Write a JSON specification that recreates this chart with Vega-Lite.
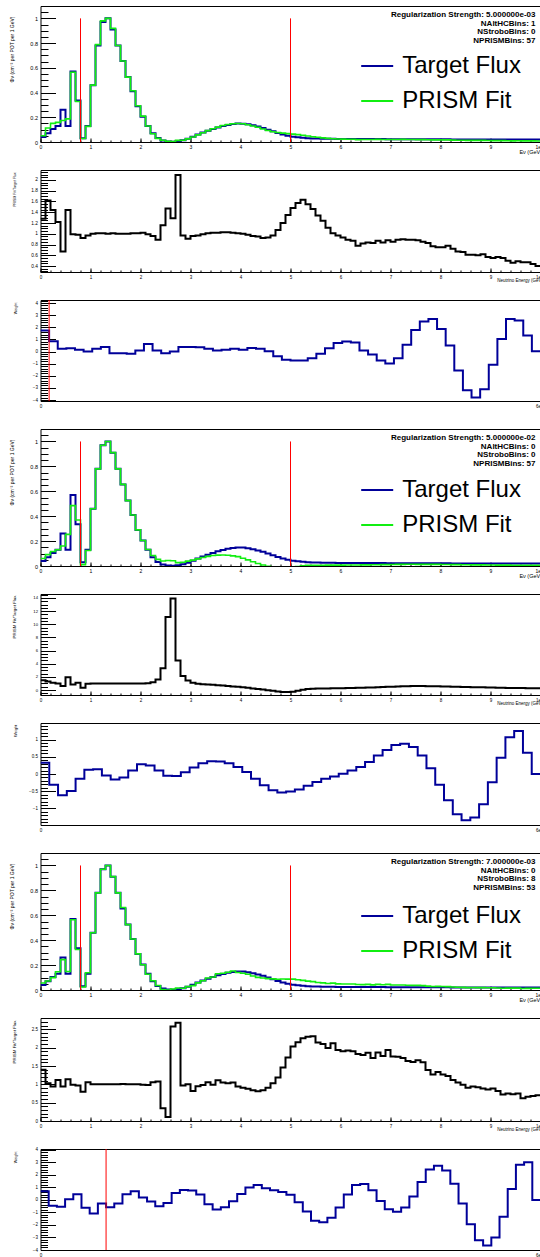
{
"$schema": "https://vega.github.io/schema/vega-lite/v6.json",
"padding": {"left": 8.5, "top": 5, "right": 0, "bottom": 0},
"background": "white",
"spacing": 28,
"bounds": "flush",
"resolve": {"scale": {"x": "independent", "y": "independent", "color": "independent"}, "axis": {"x": "independent", "y": "independent"}, "legend": {"color": "independent"}},
"datasets": {
"flux": [
{"E":0,"t":0.04,"f1":0.051,"f2":0.06,"f3":0.056,"r1":1.28,"r2":1.5,"r3":1.4},
{"E":0.1,"t":0.07,"f1":0.113,"f2":0.091,"f3":0.072,"r1":1.62,"r2":1.3,"r3":1.03},
{"E":0.2,"t":0.105,"f1":0.151,"f2":0.116,"f3":0.099,"r1":1.44,"r2":1.1,"r3":0.94},
{"E":0.3,"t":0.13,"f1":0.159,"f2":0.13,"f3":0.146,"r1":1.22,"r2":1.0,"r3":1.12},
{"E":0.4,"t":0.26,"f1":0.174,"f2":0.161,"f3":0.244,"r1":0.67,"r2":0.62,"r3":0.94},
{"E":0.5,"t":0.13,"f1":0.187,"f2":0.254,"f3":0.148,"r1":1.44,"r2":1.95,"r3":1.14},
{"E":0.6,"t":0.57,"f1":0.564,"f2":0.485,"f3":0.564,"r1":0.99,"r2":0.85,"r3":0.99},
{"E":0.7,"t":0.335,"f1":0.328,"f2":0.369,"f3":0.325,"r1":0.98,"r2":1.1,"r3":0.97},
{"E":0.8,"t":0.03,"f1":0.028,"f2":0.011,"f3":0.024,"r1":0.92,"r2":0.36,"r3":0.8},
{"E":0.9,"t":0.13,"f1":0.126,"f2":0.124,"f3":0.138,"r1":0.97,"r2":0.95,"r3":1.06},
{"E":1.0,"t":0.46,"f1":0.46,"f2":0.46,"f3":0.46,"r1":1.0,"r2":1.0,"r3":1.0},
{"E":1.1,"t":0.78,"f1":0.788,"f2":0.78,"f3":0.78,"r1":1.01,"r2":1.0,"r3":1.0},
{"E":1.2,"t":0.97,"f1":0.98,"f2":0.97,"f3":0.97,"r1":1.01,"r2":1.0,"r3":1.0},
{"E":1.3,"t":1.0,"f1":1.0,"f2":1.0,"f3":1.0,"r1":1.0,"r2":1.0,"r3":1.0},
{"E":1.4,"t":0.91,"f1":0.919,"f2":0.91,"f3":0.91,"r1":1.01,"r2":1.0,"r3":1.0},
{"E":1.5,"t":0.78,"f1":0.78,"f2":0.78,"f3":0.78,"r1":1.0,"r2":1.0,"r3":1.0},
{"E":1.6,"t":0.655,"f1":0.655,"f2":0.655,"f3":0.662,"r1":1.0,"r2":1.0,"r3":1.01},
{"E":1.7,"t":0.525,"f1":0.525,"f2":0.525,"f3":0.525,"r1":1.0,"r2":1.0,"r3":1.0},
{"E":1.8,"t":0.41,"f1":0.414,"f2":0.41,"f3":0.41,"r1":1.01,"r2":1.0,"r3":1.0},
{"E":1.9,"t":0.29,"f1":0.293,"f2":0.29,"f3":0.29,"r1":1.01,"r2":1.0,"r3":1.0},
{"E":2.0,"t":0.205,"f1":0.209,"f2":0.205,"f3":0.203,"r1":1.02,"r2":1.0,"r3":0.99},
{"E":2.1,"t":0.13,"f1":0.129,"f2":0.133,"f3":0.127,"r1":0.99,"r2":1.02,"r3":0.98},
{"E":2.2,"t":0.07,"f1":0.067,"f2":0.084,"f3":0.074,"r1":0.96,"r2":1.2,"r3":1.06},
{"E":2.3,"t":0.033,"f1":0.029,"f2":0.053,"f3":0.036,"r1":0.89,"r2":1.6,"r3":1.08},
{"E":2.4,"t":0.012,"f1":0.014,"f2":0.04,"f3":0.004,"r1":1.16,"r2":3.3,"r3":0.35},
{"E":2.5,"t":0.004,"f1":0.006,"f2":0.044,"f3":0.0,"r1":1.47,"r2":11.1,"r3":0.11},
{"E":2.6,"t":0.003,"f1":0.004,"f2":0.042,"f3":0.008,"r1":1.29,"r2":13.9,"r3":2.58},
{"E":2.7,"t":0.006,"f1":0.013,"f2":0.027,"f3":0.016,"r1":2.09,"r2":4.5,"r3":2.68},
{"E":2.8,"t":0.014,"f1":0.014,"f2":0.03,"f3":0.014,"r1":0.97,"r2":2.15,"r3":0.97},
{"E":2.9,"t":0.027,"f1":0.025,"f2":0.039,"f3":0.027,"r1":0.91,"r2":1.45,"r3":1.0},
{"E":3.0,"t":0.043,"f1":0.041,"f2":0.047,"f3":0.035,"r1":0.96,"r2":1.1,"r3":0.82},
{"E":3.1,"t":0.06,"f1":0.058,"f2":0.057,"f3":0.057,"r1":0.97,"r2":0.95,"r3":0.95},
{"E":3.2,"t":0.076,"f1":0.075,"f2":0.068,"f3":0.074,"r1":0.99,"r2":0.9,"r3":0.98},
{"E":3.3,"t":0.091,"f1":0.092,"f2":0.077,"f3":0.096,"r1":1.01,"r2":0.85,"r3":1.06},
{"E":3.4,"t":0.105,"f1":0.107,"f2":0.084,"f3":0.104,"r1":1.02,"r2":0.8,"r3":0.99},
{"E":3.5,"t":0.118,"f1":0.12,"f2":0.087,"f3":0.131,"r1":1.02,"r2":0.74,"r3":1.11},
{"E":3.6,"t":0.129,"f1":0.133,"f2":0.088,"f3":0.135,"r1":1.03,"r2":0.68,"r3":1.05},
{"E":3.7,"t":0.138,"f1":0.142,"f2":0.086,"f3":0.142,"r1":1.03,"r2":0.62,"r3":1.03},
{"E":3.8,"t":0.145,"f1":0.148,"f2":0.081,"f3":0.152,"r1":1.02,"r2":0.56,"r3":1.05},
{"E":3.9,"t":0.149,"f1":0.15,"f2":0.075,"f3":0.14,"r1":1.01,"r2":0.5,"r3":0.94},
{"E":4.0,"t":0.148,"f1":0.148,"f2":0.062,"f3":0.135,"r1":1.0,"r2":0.42,"r3":0.91},
{"E":4.1,"t":0.143,"f1":0.14,"f2":0.049,"f3":0.126,"r1":0.98,"r2":0.34,"r3":0.88},
{"E":4.2,"t":0.135,"f1":0.13,"f2":0.034,"f3":0.113,"r1":0.96,"r2":0.25,"r3":0.84},
{"E":4.3,"t":0.125,"f1":0.119,"f2":0.02,"f3":0.101,"r1":0.95,"r2":0.16,"r3":0.81},
{"E":4.4,"t":0.114,"f1":0.105,"f2":0.008,"f3":0.096,"r1":0.92,"r2":0.07,"r3":0.84},
{"E":4.5,"t":0.1,"f1":0.093,"f2":-0.002,"f3":0.091,"r1":0.93,"r2":-0.02,"r3":0.91},
{"E":4.6,"t":0.086,"f1":0.083,"f2":-0.01,"f3":0.089,"r1":0.97,"r2":-0.12,"r3":1.03},
{"E":4.7,"t":0.072,"f1":0.077,"f2":-0.016,"f3":0.086,"r1":1.07,"r2":-0.22,"r3":1.19},
{"E":4.8,"t":0.06,"f1":0.072,"f2":-0.017,"f3":0.088,"r1":1.2,"r2":-0.28,"r3":1.46},
{"E":4.9,"t":0.05,"f1":0.068,"f2":-0.015,"f3":0.087,"r1":1.35,"r2":-0.3,"r3":1.73},
{"E":5.0,"t":0.043,"f1":0.064,"f2":-0.011,"f3":0.087,"r1":1.48,"r2":-0.25,"r3":2.03},
{"E":5.1,"t":0.038,"f1":0.06,"f2":-0.004,"f3":0.082,"r1":1.57,"r2":-0.1,"r3":2.15},
{"E":5.2,"t":0.034,"f1":0.055,"f2":0.002,"f3":0.077,"r1":1.63,"r2":0.05,"r3":2.26},
{"E":5.3,"t":0.031,"f1":0.048,"f2":0.005,"f3":0.071,"r1":1.55,"r2":0.15,"r3":2.3},
{"E":5.4,"t":0.029,"f1":0.042,"f2":0.006,"f3":0.067,"r1":1.46,"r2":0.2,"r3":2.31},
{"E":5.5,"t":0.028,"f1":0.038,"f2":0.006,"f3":0.06,"r1":1.34,"r2":0.22,"r3":2.14},
{"E":5.6,"t":0.027,"f1":0.033,"f2":0.006,"f3":0.057,"r1":1.24,"r2":0.24,"r3":2.1},
{"E":5.7,"t":0.026,"f1":0.029,"f2":0.007,"f3":0.052,"r1":1.11,"r2":0.25,"r3":1.99},
{"E":5.8,"t":0.026,"f1":0.026,"f2":0.007,"f3":0.055,"r1":1.01,"r2":0.26,"r3":2.12},
{"E":5.9,"t":0.025,"f1":0.024,"f2":0.007,"f3":0.049,"r1":0.97,"r2":0.27,"r3":1.94},
{"E":6.0,"t":0.025,"f1":0.023,"f2":0.007,"f3":0.048,"r1":0.93,"r2":0.28,"r3":1.9},
{"E":6.1,"t":0.025,"f1":0.022,"f2":0.008,"f3":0.048,"r1":0.89,"r2":0.3,"r3":1.92},
{"E":6.2,"t":0.025,"f1":0.022,"f2":0.008,"f3":0.048,"r1":0.87,"r2":0.32,"r3":1.9},
{"E":6.3,"t":0.024,"f1":0.019,"f2":0.008,"f3":0.044,"r1":0.78,"r2":0.34,"r3":1.83},
{"E":6.4,"t":0.024,"f1":0.02,"f2":0.009,"f3":0.043,"r1":0.82,"r2":0.36,"r3":1.8},
{"E":6.5,"t":0.024,"f1":0.02,"f2":0.009,"f3":0.045,"r1":0.84,"r2":0.38,"r3":1.86},
{"E":6.6,"t":0.024,"f1":0.02,"f2":0.01,"f3":0.041,"r1":0.83,"r2":0.4,"r3":1.72},
{"E":6.7,"t":0.024,"f1":0.021,"f2":0.01,"f3":0.045,"r1":0.87,"r2":0.43,"r3":1.87},
{"E":6.8,"t":0.024,"f1":0.02,"f2":0.011,"f3":0.042,"r1":0.84,"r2":0.46,"r3":1.77},
{"E":6.9,"t":0.023,"f1":0.02,"f2":0.011,"f3":0.045,"r1":0.88,"r2":0.49,"r3":1.94},
{"E":7.0,"t":0.023,"f1":0.02,"f2":0.012,"f3":0.04,"r1":0.85,"r2":0.52,"r3":1.76},
{"E":7.1,"t":0.023,"f1":0.02,"f2":0.013,"f3":0.04,"r1":0.89,"r2":0.55,"r3":1.75},
{"E":7.2,"t":0.023,"f1":0.021,"f2":0.013,"f3":0.04,"r1":0.9,"r2":0.57,"r3":1.72},
{"E":7.3,"t":0.023,"f1":0.02,"f2":0.014,"f3":0.038,"r1":0.89,"r2":0.59,"r3":1.64},
{"E":7.4,"t":0.023,"f1":0.02,"f2":0.014,"f3":0.037,"r1":0.89,"r2":0.6,"r3":1.61},
{"E":7.5,"t":0.022,"f1":0.019,"f2":0.013,"f3":0.037,"r1":0.88,"r2":0.6,"r3":1.66},
{"E":7.6,"t":0.022,"f1":0.019,"f2":0.013,"f3":0.035,"r1":0.85,"r2":0.6,"r3":1.6},
{"E":7.7,"t":0.022,"f1":0.018,"f2":0.013,"f3":0.031,"r1":0.83,"r2":0.59,"r3":1.39},
{"E":7.8,"t":0.022,"f1":0.017,"f2":0.013,"f3":0.028,"r1":0.77,"r2":0.58,"r3":1.27},
{"E":7.9,"t":0.022,"f1":0.017,"f2":0.013,"f3":0.029,"r1":0.75,"r2":0.57,"r3":1.34},
{"E":8.0,"t":0.022,"f1":0.017,"f2":0.012,"f3":0.028,"r1":0.75,"r2":0.56,"r3":1.27},
{"E":8.1,"t":0.022,"f1":0.017,"f2":0.012,"f3":0.027,"r1":0.78,"r2":0.54,"r3":1.23},
{"E":8.2,"t":0.021,"f1":0.015,"f2":0.011,"f3":0.024,"r1":0.72,"r2":0.52,"r3":1.12},
{"E":8.3,"t":0.021,"f1":0.014,"f2":0.011,"f3":0.022,"r1":0.67,"r2":0.5,"r3":1.05},
{"E":8.4,"t":0.021,"f1":0.014,"f2":0.01,"f3":0.021,"r1":0.66,"r2":0.48,"r3":0.99},
{"E":8.5,"t":0.021,"f1":0.013,"f2":0.01,"f3":0.019,"r1":0.61,"r2":0.46,"r3":0.91},
{"E":8.6,"t":0.021,"f1":0.013,"f2":0.009,"f3":0.02,"r1":0.61,"r2":0.44,"r3":0.94},
{"E":8.7,"t":0.021,"f1":0.013,"f2":0.009,"f3":0.019,"r1":0.6,"r2":0.42,"r3":0.92},
{"E":8.8,"t":0.021,"f1":0.013,"f2":0.009,"f3":0.019,"r1":0.62,"r2":0.41,"r3":0.89},
{"E":8.9,"t":0.021,"f1":0.012,"f2":0.008,"f3":0.018,"r1":0.57,"r2":0.39,"r3":0.86},
{"E":9.0,"t":0.02,"f1":0.011,"f2":0.008,"f3":0.018,"r1":0.55,"r2":0.38,"r3":0.89},
{"E":9.1,"t":0.02,"f1":0.011,"f2":0.007,"f3":0.016,"r1":0.57,"r2":0.36,"r3":0.82},
{"E":9.2,"t":0.02,"f1":0.011,"f2":0.007,"f3":0.014,"r1":0.55,"r2":0.35,"r3":0.72},
{"E":9.3,"t":0.02,"f1":0.01,"f2":0.007,"f3":0.015,"r1":0.5,"r2":0.33,"r3":0.75},
{"E":9.4,"t":0.02,"f1":0.009,"f2":0.006,"f3":0.015,"r1":0.46,"r2":0.32,"r3":0.73},
{"E":9.5,"t":0.02,"f1":0.01,"f2":0.006,"f3":0.015,"r1":0.49,"r2":0.31,"r3":0.75},
{"E":9.6,"t":0.02,"f1":0.009,"f2":0.006,"f3":0.012,"r1":0.47,"r2":0.3,"r3":0.62},
{"E":9.7,"t":0.02,"f1":0.009,"f2":0.006,"f3":0.013,"r1":0.47,"r2":0.29,"r3":0.66},
{"E":9.8,"t":0.02,"f1":0.009,"f2":0.006,"f3":0.014,"r1":0.44,"r2":0.28,"r3":0.68},
{"E":9.9,"t":0.02,"f1":0.008,"f2":0.005,"f3":0.014,"r1":0.4,"r2":0.27,"r3":0.7},
{"E":10,"t":0.02,"f1":0.008,"f2":0.005,"f3":0.014,"r1":0.4,"r2":0.27,"r3":0.7}
],
"w1": [
{"bin":0,"w":1.73},{"bin":1,"w":0.85},{"bin":2,"w":0.22},{"bin":3,"w":0.27},{"bin":4,"w":0.14},{"bin":5,"w":0.0},{"bin":6,"w":0.22},{"bin":7,"w":0.38},{"bin":8,"w":-0.14},{"bin":9,"w":-0.14},
{"bin":10,"w":-0.19},{"bin":11,"w":0.08},{"bin":12,"w":0.63},{"bin":13,"w":0.08},{"bin":14,"w":-0.14},{"bin":15,"w":0.0},{"bin":16,"w":0.38},{"bin":17,"w":0.38},{"bin":18,"w":0.36},{"bin":19,"w":0.22},
{"bin":20,"w":0.08},{"bin":21,"w":0.14},{"bin":22,"w":0.22},{"bin":23,"w":0.14},{"bin":24,"w":0.3},{"bin":25,"w":0.22},{"bin":26,"w":0.03},{"bin":27,"w":-0.38},{"bin":28,"w":-0.68},{"bin":29,"w":-0.74},
{"bin":30,"w":-0.74},{"bin":31,"w":-0.55},{"bin":32,"w":-0.19},{"bin":33,"w":0.27},{"bin":34,"w":0.71},{"bin":35,"w":0.82},{"bin":36,"w":0.74},{"bin":37,"w":0.08},{"bin":38,"w":-0.25},{"bin":39,"w":-0.74},
{"bin":40,"w":-0.99},{"bin":41,"w":-0.55},{"bin":42,"w":0.55},{"bin":43,"w":1.78},{"bin":44,"w":2.47},{"bin":45,"w":2.68},{"bin":46,"w":1.86},{"bin":47,"w":0.49},{"bin":48,"w":-1.56},{"bin":49,"w":-3.2},
{"bin":50,"w":-3.8},{"bin":51,"w":-3.12},{"bin":52,"w":-1.1},{"bin":53,"w":1.04},{"bin":54,"w":2.68},{"bin":55,"w":2.55},{"bin":56,"w":1.32},{"bin":57,"w":0.03},{"bin":58,"w":0.03}
],
"w2": [
{"bin":0,"w":0.33},{"bin":1,"w":-0.31},{"bin":2,"w":-0.62},{"bin":3,"w":-0.49},{"bin":4,"w":-0.14},{"bin":5,"w":0.12},{"bin":6,"w":0.14},{"bin":7,"w":-0.04},{"bin":8,"w":-0.16},{"bin":9,"w":-0.1},
{"bin":10,"w":0.1},{"bin":11,"w":0.28},{"bin":12,"w":0.25},{"bin":13,"w":0.1},{"bin":14,"w":-0.05},{"bin":15,"w":-0.06},{"bin":16,"w":0.05},{"bin":17,"w":0.19},{"bin":18,"w":0.31},{"bin":19,"w":0.37},
{"bin":20,"w":0.36},{"bin":21,"w":0.31},{"bin":22,"w":0.2},{"bin":23,"w":0.06},{"bin":24,"w":-0.14},{"bin":25,"w":-0.33},{"bin":26,"w":-0.47},{"bin":27,"w":-0.54},{"bin":28,"w":-0.51},{"bin":29,"w":-0.45},
{"bin":30,"w":-0.34},{"bin":31,"w":-0.23},{"bin":32,"w":-0.14},{"bin":33,"w":-0.07},{"bin":34,"w":0.01},{"bin":35,"w":0.1},{"bin":36,"w":0.2},{"bin":37,"w":0.35},{"bin":38,"w":0.54},{"bin":39,"w":0.7},
{"bin":40,"w":0.84},{"bin":41,"w":0.88},{"bin":42,"w":0.78},{"bin":43,"w":0.54},{"bin":44,"w":0.17},{"bin":45,"w":-0.31},{"bin":46,"w":-0.76},{"bin":47,"w":-1.17},{"bin":48,"w":-1.34},{"bin":49,"w":-1.26},
{"bin":50,"w":-0.88},{"bin":51,"w":-0.24},{"bin":52,"w":0.47},{"bin":53,"w":1.07},{"bin":54,"w":1.25},{"bin":55,"w":0.62},{"bin":56,"w":0.0},{"bin":57,"w":0.0}
],
"w3": [
{"bin":0,"w":0.69},{"bin":1,"w":-0.47},{"bin":2,"w":-0.55},{"bin":3,"w":0.05},{"bin":4,"w":0.45},{"bin":5,"w":-0.63},{"bin":6,"w":-1.08},{"bin":7,"w":-0.29},{"bin":8,"w":-0.58},{"bin":9,"w":-0.29},
{"bin":10,"w":0.45},{"bin":11,"w":0.69},{"bin":12,"w":0.18},{"bin":13,"w":-0.13},{"bin":14,"w":-0.5},{"bin":15,"w":-0.24},{"bin":16,"w":0.55},{"bin":17,"w":0.79},{"bin":18,"w":0.74},{"bin":19,"w":0.42},
{"bin":20,"w":-0.34},{"bin":21,"w":-0.77},{"bin":22,"w":-0.58},{"bin":23,"w":-0.11},{"bin":24,"w":0.47},{"bin":25,"w":0.98},{"bin":26,"w":1.19},{"bin":27,"w":0.92},{"bin":28,"w":0.77},{"bin":29,"w":0.63},
{"bin":30,"w":0.4},{"bin":31,"w":-0.18},{"bin":32,"w":-0.92},{"bin":33,"w":-1.66},{"bin":34,"w":-1.79},{"bin":35,"w":-1.42},{"bin":36,"w":-0.61},{"bin":37,"w":0.42},{"bin":38,"w":1.19},{"bin":39,"w":1.27},
{"bin":40,"w":0.77},{"bin":41,"w":-0.08},{"bin":42,"w":-0.74},{"bin":43,"w":-0.95},{"bin":44,"w":-0.61},{"bin":45,"w":0.26},{"bin":46,"w":1.42},{"bin":47,"w":2.43},{"bin":48,"w":2.72},{"bin":49,"w":2.35},
{"bin":50,"w":1.29},{"bin":51,"w":-0.29},{"bin":52,"w":-1.95},{"bin":53,"w":-3.22},{"bin":54,"w":-3.64},{"bin":55,"w":-3.01},{"bin":56,"w":-1.35},{"bin":57,"w":0.87},{"bin":58,"w":2.8},{"bin":59,"w":3.01},
{"bin":60,"w":0.0},{"bin":61,"w":0.0}
]
},
"vconcat": [
{
"width": 500, "height": 136, "data": {"name": "flux"},
"resolve": {"axis": {"x": "independent", "y": "independent"}},
"layer": [
{"mark": {"type": "line", "strokeOpacity": 0},
 "encoding": {
  "x": {"field": "E", "type": "quantitative", "scale": {"domain": [0, 10], "nice": false, "zero": false}, "axis": {"orient": "bottom", "values": [0,0.2,0.4,0.6,0.8,1,1.2,1.4,1.6,1.8,2,2.2,2.4,2.6,2.8,3,3.2,3.4,3.6,3.8,4,4.2,4.4,4.6,4.8,5,5.2,5.4,5.6,5.8,6,6.2,6.4,6.6,6.8,7,7.2,7.4,7.6,7.8,8,8.2,8.4,8.6,8.8,9,9.2,9.4,9.6,9.8,10], "labels": false, "title": null, "tickSize": -2}},
  "y": {"field": "t", "type": "quantitative", "scale": {"domain": [0, 1.1], "nice": false, "zero": false}, "axis": {"orient": "left", "values": [0,0.05,0.1,0.15,0.2,0.25,0.3,0.35,0.4,0.45,0.5,0.55,0.6,0.65,0.7,0.75,0.8,0.85,0.9,0.95,1,1.05], "labels": false, "title": null, "tickSize": -7.5}}
 }},
{"mark": {"type": "line", "interpolate": "step-after", "strokeWidth": 2, "clip": true},
 "encoding": {
  "x": {"field": "E", "type": "quantitative", "scale": {"domain": [0, 10], "nice": false, "zero": false}, "axis": {"orient": "bottom", "values": [0,1,2,3,4,5,6,7,8,9,10], "format": "~g", "labelFontSize": 5, "tickSize": -4, "labelPadding": 6, "title": "Eν (GeV)", "titleFontSize": 5.5, "titleAlign": "right", "titleBaseline": "middle", "titleX": 501, "titleY": 9}},
  "y": {"field": "t", "type": "quantitative", "scale": {"domain": [0, 1.1], "nice": false, "zero": false}, "axis": {"orient": "left", "values": [0,0.2,0.4,0.6,0.8,1], "format": "~g", "labelFontSize": 5.5, "tickSize": -15, "labelPadding": 18, "title": "Φν (cm⁻² per POT per 1 GeV)", "titleFontSize": 5, "titleAngle": -90, "titleAlign": "right", "titleBaseline": "middle", "titleX": -29, "titleY": 10}},
  "color": {"datum": "Target Flux", "type": "nominal", "scale": {"domain": ["Target Flux", "PRISM Fit"], "range": ["#000099", "#11ee11"]}, "legend": {"orient": "none", "legendX": 319.7, "legendY": 43, "direction": "vertical", "title": null, "symbolType": "stroke", "symbolSize": 1024, "symbolStrokeWidth": 2, "labelFontSize": 24, "labelFont": "Liberation Sans", "labelOffset": 8, "rowPadding": 6, "padding": 0, "labelLimit": 0, "labelColor": "black"}}
 }},
{"mark": {"type": "line", "interpolate": "step-after", "strokeWidth": 1.6, "clip": true},
 "encoding": {
  "x": {"field": "E", "type": "quantitative", "scale": {"domain": [0, 10], "nice": false, "zero": false}, "axis": null},
  "y": {"field": "f1", "type": "quantitative", "scale": {"domain": [0, 1.1], "nice": false, "zero": false}, "axis": null},
  "color": {"datum": "PRISM Fit", "type": "nominal"}
 }},
{"data": {"values": [{}]}, "mark": {"type": "rule", "color": "#ff0000", "strokeWidth": 1},
 "encoding": {"x": {"datum": 0.8, "type": "quantitative", "axis": null}, "y": {"datum": 0, "type": "quantitative", "axis": null}, "y2": {"datum": 1}}},
{"data": {"values": [{}]}, "mark": {"type": "rule", "color": "#ff0000", "strokeWidth": 1},
 "encoding": {"x": {"datum": 5, "type": "quantitative", "axis": null}, "y": {"datum": 0, "type": "quantitative", "axis": null}, "y2": {"datum": 1}}},
{"data": {"values": [{}]}, "mark": {"type": "text", "text": ["Regularization Strength: 5.000000e-03", "NAltHCBins: 1", "NStroboBins: 0", "NPRISMBins: 57"], "align": "right", "baseline": "top", "fontSize": 8, "fontWeight": "bold", "lineHeight": 8.6, "font": "Liberation Sans", "color": "black"},
 "encoding": {"x": {"datum": 9.9, "type": "quantitative", "axis": null}, "y": {"datum": 1.06, "type": "quantitative", "axis": null}}}
]
},
{
"width": 500, "height": 102, "data": {"name": "flux"},
"resolve": {"axis": {"x": "independent", "y": "independent"}},
"layer": [
{"mark": {"type": "line", "strokeOpacity": 0},
 "encoding": {
  "x": {"field": "E", "type": "quantitative", "scale": {"domain": [0, 10], "nice": false, "zero": false}, "axis": {"orient": "bottom", "values": [0,0.2,0.4,0.6,0.8,1,1.2,1.4,1.6,1.8,2,2.2,2.4,2.6,2.8,3,3.2,3.4,3.6,3.8,4,4.2,4.4,4.6,4.8,5,5.2,5.4,5.6,5.8,6,6.2,6.4,6.6,6.8,7,7.2,7.4,7.6,7.8,8,8.2,8.4,8.6,8.8,9,9.2,9.4,9.6,9.8,10], "labels": false, "title": null, "tickSize": -2}},
  "y": {"field": "r1", "type": "quantitative", "scale": {"domain": [0.29, 2.185], "nice": false, "zero": false}, "axis": {"orient": "left", "values": [0.3,0.35,0.4,0.45,0.5,0.55,0.6,0.65,0.7,0.75,0.8,0.85,0.9,0.95,1,1.05,1.1,1.15,1.2,1.25,1.3,1.35,1.4,1.45,1.5,1.55,1.6,1.65,1.7,1.75,1.8,1.85,1.9,1.95,2,2.05,2.1,2.15], "labels": false, "title": null, "tickSize": -7}}
 }},
{"mark": {"type": "line", "interpolate": "step-after", "strokeWidth": 2, "color": "black", "clip": true},
 "encoding": {
  "x": {"field": "E", "type": "quantitative", "scale": {"domain": [0, 10], "nice": false, "zero": false}, "axis": {"orient": "bottom", "values": [0,1,2,3,4,5,6,7,8,9,10], "format": "~g", "labelFontSize": 4.5, "tickSize": -4, "labelPadding": 6, "title": "Neutrino Energy (GeV)", "titleFontSize": 4.5, "titleAlign": "right", "titleBaseline": "middle", "titleX": 502, "titleY": 8}},
  "y": {"field": "r1", "type": "quantitative", "scale": {"domain": [0.29, 2.185], "nice": false, "zero": false}, "axis": {"orient": "left", "values": [0.4,0.6,0.8,1,1.2,1.4,1.6,1.8,2], "format": "~g", "labelFontSize": 4.8, "tickSize": -15, "labelPadding": 18, "title": "PRISM Fit/Target Flux", "titleFontSize": 3.5, "titleAngle": -90, "titleAlign": "right", "titleBaseline": "middle", "titleX": -26, "titleY": 2}}
 }}
]
},
{
"width": 500, "height": 101, "data": {"name": "w1"},
"resolve": {"axis": {"x": "independent", "y": "independent"}},
"layer": [
{"mark": {"type": "line", "strokeOpacity": 0},
 "encoding": {
  "x": {"field": "bin", "type": "quantitative", "scale": {"domain": [0, 58], "nice": false, "zero": false}, "axis": null},
  "y": {"field": "w", "type": "quantitative", "scale": {"domain": [-4.08, 4.25], "nice": false, "zero": false}, "axis": {"orient": "left", "values": [-4,-3.8,-3.6,-3.4,-3.2,-3,-2.8,-2.6,-2.4,-2.2,-2,-1.8,-1.6,-1.4,-1.2,-1,-0.8,-0.6,-0.4,-0.2,0,0.2,0.4,0.6,0.8,1,1.2,1.4,1.6,1.8,2,2.2,2.4,2.6,2.8,3,3.2,3.4,3.6,3.8,4,4.2], "labels": false, "title": null, "tickSize": -7}}
 }},
{"mark": {"type": "line", "interpolate": "step-after", "strokeWidth": 2, "color": "#000099", "clip": true},
 "encoding": {
  "x": {"field": "bin", "type": "quantitative", "scale": {"domain": [0, 58], "nice": false, "zero": false}, "axis": {"orient": "bottom", "values": [0, 58], "format": "~g", "ticks": false, "labelPadding": 2, "labelFontSize": 4.5, "title": null}},
  "y": {"field": "w", "type": "quantitative", "scale": {"domain": [-4.08, 4.25], "nice": false, "zero": false}, "axis": {"orient": "left", "values": [-4,-3,-2,-1,0,1,2,3,4], "format": "~g", "labelFontSize": 4.5, "tickSize": -15, "labelPadding": 18, "title": "Weight", "titleFontSize": 3.8, "titleAngle": -90, "titleAlign": "right", "titleBaseline": "middle", "titleX": -25, "titleY": 2}}
 }},
{"data": {"values": [{}]}, "mark": {"type": "rule", "color": "#ff0000", "strokeWidth": 1},
 "encoding": {"x": {"datum": 1, "type": "quantitative", "axis": null}}}
]
},
{
"width": 500, "height": 137, "data": {"name": "flux"},
"resolve": {"axis": {"x": "independent", "y": "independent"}},
"layer": [
{"mark": {"type": "line", "strokeOpacity": 0},
 "encoding": {
  "x": {"field": "E", "type": "quantitative", "scale": {"domain": [0, 10], "nice": false, "zero": false}, "axis": {"orient": "bottom", "values": [0,0.2,0.4,0.6,0.8,1,1.2,1.4,1.6,1.8,2,2.2,2.4,2.6,2.8,3,3.2,3.4,3.6,3.8,4,4.2,4.4,4.6,4.8,5,5.2,5.4,5.6,5.8,6,6.2,6.4,6.6,6.8,7,7.2,7.4,7.6,7.8,8,8.2,8.4,8.6,8.8,9,9.2,9.4,9.6,9.8,10], "labels": false, "title": null, "tickSize": -2}},
  "y": {"field": "t", "type": "quantitative", "scale": {"domain": [0, 1.1], "nice": false, "zero": false}, "axis": {"orient": "left", "values": [0,0.05,0.1,0.15,0.2,0.25,0.3,0.35,0.4,0.45,0.5,0.55,0.6,0.65,0.7,0.75,0.8,0.85,0.9,0.95,1,1.05], "labels": false, "title": null, "tickSize": -7.5}}
 }},
{"mark": {"type": "line", "interpolate": "step-after", "strokeWidth": 2, "clip": true},
 "encoding": {
  "x": {"field": "E", "type": "quantitative", "scale": {"domain": [0, 10], "nice": false, "zero": false}, "axis": {"orient": "bottom", "values": [0,1,2,3,4,5,6,7,8,9,10], "format": "~g", "labelFontSize": 5, "tickSize": -4, "labelPadding": 6, "title": "Eν (GeV)", "titleFontSize": 5.5, "titleAlign": "right", "titleBaseline": "middle", "titleX": 501, "titleY": 9}},
  "y": {"field": "t", "type": "quantitative", "scale": {"domain": [0, 1.1], "nice": false, "zero": false}, "axis": {"orient": "left", "values": [0,0.2,0.4,0.6,0.8,1], "format": "~g", "labelFontSize": 5.5, "tickSize": -15, "labelPadding": 18, "title": "Φν (cm⁻² per POT per 1 GeV)", "titleFontSize": 5, "titleAngle": -90, "titleAlign": "right", "titleBaseline": "middle", "titleX": -29, "titleY": 10}},
  "color": {"datum": "Target Flux", "type": "nominal", "scale": {"domain": ["Target Flux", "PRISM Fit"], "range": ["#000099", "#11ee11"]}, "legend": {"orient": "none", "legendX": 319.7, "legendY": 44, "direction": "vertical", "title": null, "symbolType": "stroke", "symbolSize": 1024, "symbolStrokeWidth": 2, "labelFontSize": 24, "labelFont": "Liberation Sans", "labelOffset": 8, "rowPadding": 6, "padding": 0, "labelLimit": 0, "labelColor": "black"}}
 }},
{"mark": {"type": "line", "interpolate": "step-after", "strokeWidth": 1.6, "clip": true},
 "encoding": {
  "x": {"field": "E", "type": "quantitative", "scale": {"domain": [0, 10], "nice": false, "zero": false}, "axis": null},
  "y": {"field": "f2", "type": "quantitative", "scale": {"domain": [0, 1.1], "nice": false, "zero": false}, "axis": null},
  "color": {"datum": "PRISM Fit", "type": "nominal"}
 }},
{"data": {"values": [{}]}, "mark": {"type": "rule", "color": "#ff0000", "strokeWidth": 1},
 "encoding": {"x": {"datum": 0.8, "type": "quantitative", "axis": null}, "y": {"datum": 0, "type": "quantitative", "axis": null}, "y2": {"datum": 1}}},
{"data": {"values": [{}]}, "mark": {"type": "rule", "color": "#ff0000", "strokeWidth": 1},
 "encoding": {"x": {"datum": 5, "type": "quantitative", "axis": null}, "y": {"datum": 0, "type": "quantitative", "axis": null}, "y2": {"datum": 1}}},
{"data": {"values": [{}]}, "mark": {"type": "text", "text": ["Regularization Strength: 5.000000e-02", "NAltHCBins: 0", "NStroboBins: 0", "NPRISMBins: 57"], "align": "right", "baseline": "top", "fontSize": 8, "fontWeight": "bold", "lineHeight": 8.6, "font": "Liberation Sans", "color": "black"},
 "encoding": {"x": {"datum": 9.9, "type": "quantitative", "axis": null}, "y": {"datum": 1.06, "type": "quantitative", "axis": null}}}
]
},
{
"width": 500, "height": 101, "data": {"name": "flux"},
"resolve": {"axis": {"x": "independent", "y": "independent"}},
"layer": [
{"mark": {"type": "line", "strokeOpacity": 0},
 "encoding": {
  "x": {"field": "E", "type": "quantitative", "scale": {"domain": [0, 10], "nice": false, "zero": false}, "axis": {"orient": "bottom", "values": [0,0.2,0.4,0.6,0.8,1,1.2,1.4,1.6,1.8,2,2.2,2.4,2.6,2.8,3,3.2,3.4,3.6,3.8,4,4.2,4.4,4.6,4.8,5,5.2,5.4,5.6,5.8,6,6.2,6.4,6.6,6.8,7,7.2,7.4,7.6,7.8,8,8.2,8.4,8.6,8.8,9,9.2,9.4,9.6,9.8,10], "labels": false, "title": null, "tickSize": -2}},
  "y": {"field": "r2", "type": "quantitative", "scale": {"domain": [-0.75, 14.6], "nice": false, "zero": false}, "axis": {"orient": "left", "values": [-0.5,0,0.5,1,1.5,2,2.5,3,3.5,4,4.5,5,5.5,6,6.5,7,7.5,8,8.5,9,9.5,10,10.5,11,11.5,12,12.5,13,13.5,14,14.5], "labels": false, "title": null, "tickSize": -7}}
 }},
{"mark": {"type": "line", "interpolate": "step-after", "strokeWidth": 2, "color": "black", "clip": true},
 "encoding": {
  "x": {"field": "E", "type": "quantitative", "scale": {"domain": [0, 10], "nice": false, "zero": false}, "axis": {"orient": "bottom", "values": [0,1,2,3,4,5,6,7,8,9,10], "format": "~g", "labelFontSize": 4.5, "tickSize": -4, "labelPadding": 6, "title": "Neutrino Energy (GeV)", "titleFontSize": 4.5, "titleAlign": "right", "titleBaseline": "middle", "titleX": 502, "titleY": 8}},
  "y": {"field": "r2", "type": "quantitative", "scale": {"domain": [-0.75, 14.6], "nice": false, "zero": false}, "axis": {"orient": "left", "values": [0,2,4,6,8,10,12,14], "format": "~g", "labelFontSize": 4.2, "tickSize": -15, "labelPadding": 18, "title": "PRISM Fit/Target Flux", "titleFontSize": 4.4, "titleAngle": -90, "titleAlign": "right", "titleBaseline": "middle", "titleX": -26, "titleY": 1}}
 }}
]
},
{
"width": 500, "height": 102, "data": {"name": "w2"},
"resolve": {"axis": {"x": "independent", "y": "independent"}},
"layer": [
{"mark": {"type": "line", "strokeOpacity": 0},
 "encoding": {
  "x": {"field": "bin", "type": "quantitative", "scale": {"domain": [0, 57], "nice": false, "zero": false}, "axis": null},
  "y": {"field": "w", "type": "quantitative", "scale": {"domain": [-1.48, 1.48], "nice": false, "zero": false}, "axis": {"orient": "left", "values": [-1.4,-1.3,-1.2,-1.1,-1,-0.9,-0.8,-0.7,-0.6,-0.5,-0.4,-0.3,-0.2,-0.1,0,0.1,0.2,0.3,0.4,0.5,0.6,0.7,0.8,0.9,1,1.1,1.2,1.3,1.4], "labels": false, "title": null, "tickSize": -7}}
 }},
{"mark": {"type": "line", "interpolate": "step-after", "strokeWidth": 2, "color": "#000099", "clip": true},
 "encoding": {
  "x": {"field": "bin", "type": "quantitative", "scale": {"domain": [0, 57], "nice": false, "zero": false}, "axis": {"orient": "bottom", "values": [0, 57], "format": "~g", "ticks": false, "labelPadding": 2, "labelFontSize": 4.5, "title": null}},
  "y": {"field": "w", "type": "quantitative", "scale": {"domain": [-1.48, 1.48], "nice": false, "zero": false}, "axis": {"orient": "left", "values": [-1,-0.5,0,0.5,1], "format": "~g", "labelFontSize": 4.5, "tickSize": -15, "labelPadding": 18, "title": "Weight", "titleFontSize": 4, "titleAngle": -90, "titleAlign": "right", "titleBaseline": "middle", "titleX": -25, "titleY": 1}}
 }}
]
},
{
"width": 500, "height": 137, "data": {"name": "flux"},
"resolve": {"axis": {"x": "independent", "y": "independent"}},
"layer": [
{"mark": {"type": "line", "strokeOpacity": 0},
 "encoding": {
  "x": {"field": "E", "type": "quantitative", "scale": {"domain": [0, 10], "nice": false, "zero": false}, "axis": {"orient": "bottom", "values": [0,0.2,0.4,0.6,0.8,1,1.2,1.4,1.6,1.8,2,2.2,2.4,2.6,2.8,3,3.2,3.4,3.6,3.8,4,4.2,4.4,4.6,4.8,5,5.2,5.4,5.6,5.8,6,6.2,6.4,6.6,6.8,7,7.2,7.4,7.6,7.8,8,8.2,8.4,8.6,8.8,9,9.2,9.4,9.6,9.8,10], "labels": false, "title": null, "tickSize": -2}},
  "y": {"field": "t", "type": "quantitative", "scale": {"domain": [0, 1.1], "nice": false, "zero": false}, "axis": {"orient": "left", "values": [0,0.05,0.1,0.15,0.2,0.25,0.3,0.35,0.4,0.45,0.5,0.55,0.6,0.65,0.7,0.75,0.8,0.85,0.9,0.95,1,1.05], "labels": false, "title": null, "tickSize": -7.5}}
 }},
{"mark": {"type": "line", "interpolate": "step-after", "strokeWidth": 2, "clip": true},
 "encoding": {
  "x": {"field": "E", "type": "quantitative", "scale": {"domain": [0, 10], "nice": false, "zero": false}, "axis": {"orient": "bottom", "values": [0,1,2,3,4,5,6,7,8,9,10], "format": "~g", "labelFontSize": 5, "tickSize": -4, "labelPadding": 6, "title": "Eν (GeV)", "titleFontSize": 5.5, "titleAlign": "right", "titleBaseline": "middle", "titleX": 501, "titleY": 9}},
  "y": {"field": "t", "type": "quantitative", "scale": {"domain": [0, 1.1], "nice": false, "zero": false}, "axis": {"orient": "left", "values": [0,0.2,0.4,0.6,0.8,1], "format": "~g", "labelFontSize": 5.5, "tickSize": -15, "labelPadding": 18, "title": "Φν (cm⁻² per POT per 1 GeV)", "titleFontSize": 5, "titleAngle": -90, "titleAlign": "right", "titleBaseline": "middle", "titleX": -29, "titleY": 10}},
  "color": {"datum": "Target Flux", "type": "nominal", "scale": {"domain": ["Target Flux", "PRISM Fit"], "range": ["#000099", "#11ee11"]}, "legend": {"orient": "none", "legendX": 319.7, "legendY": 46, "direction": "vertical", "title": null, "symbolType": "stroke", "symbolSize": 1024, "symbolStrokeWidth": 2, "labelFontSize": 24, "labelFont": "Liberation Sans", "labelOffset": 8, "rowPadding": 6, "padding": 0, "labelLimit": 0, "labelColor": "black"}}
 }},
{"mark": {"type": "line", "interpolate": "step-after", "strokeWidth": 1.6, "clip": true},
 "encoding": {
  "x": {"field": "E", "type": "quantitative", "scale": {"domain": [0, 10], "nice": false, "zero": false}, "axis": null},
  "y": {"field": "f3", "type": "quantitative", "scale": {"domain": [0, 1.1], "nice": false, "zero": false}, "axis": null},
  "color": {"datum": "PRISM Fit", "type": "nominal"}
 }},
{"data": {"values": [{}]}, "mark": {"type": "rule", "color": "#ff0000", "strokeWidth": 1},
 "encoding": {"x": {"datum": 0.8, "type": "quantitative", "axis": null}, "y": {"datum": 0, "type": "quantitative", "axis": null}, "y2": {"datum": 1}}},
{"data": {"values": [{}]}, "mark": {"type": "rule", "color": "#ff0000", "strokeWidth": 1},
 "encoding": {"x": {"datum": 5, "type": "quantitative", "axis": null}, "y": {"datum": 0, "type": "quantitative", "axis": null}, "y2": {"datum": 1}}},
{"data": {"values": [{}]}, "mark": {"type": "text", "text": ["Regularization Strength: 7.000000e-03", "NAltHCBins: 0", "NStroboBins: 8", "NPRISMBins: 53"], "align": "right", "baseline": "top", "fontSize": 8, "fontWeight": "bold", "lineHeight": 8.6, "font": "Liberation Sans", "color": "black"},
 "encoding": {"x": {"datum": 9.9, "type": "quantitative", "axis": null}, "y": {"datum": 1.06, "type": "quantitative", "axis": null}}}
]
},
{
"width": 500, "height": 103, "data": {"name": "flux"},
"resolve": {"axis": {"x": "independent", "y": "independent"}},
"layer": [
{"mark": {"type": "line", "strokeOpacity": 0},
 "encoding": {
  "x": {"field": "E", "type": "quantitative", "scale": {"domain": [0, 10], "nice": false, "zero": false}, "axis": {"orient": "bottom", "values": [0,0.2,0.4,0.6,0.8,1,1.2,1.4,1.6,1.8,2,2.2,2.4,2.6,2.8,3,3.2,3.4,3.6,3.8,4,4.2,4.4,4.6,4.8,5,5.2,5.4,5.6,5.8,6,6.2,6.4,6.6,6.8,7,7.2,7.4,7.6,7.8,8,8.2,8.4,8.6,8.8,9,9.2,9.4,9.6,9.8,10], "labels": false, "title": null, "tickSize": -2}},
  "y": {"field": "r3", "type": "quantitative", "scale": {"domain": [0, 2.81], "nice": false, "zero": false}, "axis": {"orient": "left", "values": [0,0.1,0.2,0.3,0.4,0.5,0.6,0.7,0.8,0.9,1,1.1,1.2,1.3,1.4,1.5,1.6,1.7,1.8,1.9,2,2.1,2.2,2.3,2.4,2.5,2.6,2.7,2.8], "labels": false, "title": null, "tickSize": -7}}
 }},
{"mark": {"type": "line", "interpolate": "step-after", "strokeWidth": 2, "color": "black", "clip": true},
 "encoding": {
  "x": {"field": "E", "type": "quantitative", "scale": {"domain": [0, 10], "nice": false, "zero": false}, "axis": {"orient": "bottom", "values": [0,1,2,3,4,5,6,7,8,9,10], "format": "~g", "labelFontSize": 4.5, "tickSize": -4, "labelPadding": 6, "title": "Neutrino Energy (GeV)", "titleFontSize": 4.5, "titleAlign": "right", "titleBaseline": "middle", "titleX": 502, "titleY": 8}},
  "y": {"field": "r3", "type": "quantitative", "scale": {"domain": [0, 2.81], "nice": false, "zero": false}, "axis": {"orient": "left", "values": [0,0.5,1,1.5,2,2.5], "format": "~g", "labelFontSize": 4.5, "tickSize": -15, "labelPadding": 18, "title": "PRISM Fit/Target Flux", "titleFontSize": 4.4, "titleAngle": -90, "titleAlign": "right", "titleBaseline": "middle", "titleX": -26, "titleY": 2}}
 }}
]
},
{
"width": 500, "height": 101, "data": {"name": "w3"},
"resolve": {"axis": {"x": "independent", "y": "independent"}},
"layer": [
{"mark": {"type": "line", "strokeOpacity": 0},
 "encoding": {
  "x": {"field": "bin", "type": "quantitative", "scale": {"domain": [0, 61], "nice": false, "zero": false}, "axis": null},
  "y": {"field": "w", "type": "quantitative", "scale": {"domain": [-4, 4.06], "nice": false, "zero": false}, "axis": {"orient": "left", "values": [-4,-3.8,-3.6,-3.4,-3.2,-3,-2.8,-2.6,-2.4,-2.2,-2,-1.8,-1.6,-1.4,-1.2,-1,-0.8,-0.6,-0.4,-0.2,0,0.2,0.4,0.6,0.8,1,1.2,1.4,1.6,1.8,2,2.2,2.4,2.6,2.8,3,3.2,3.4,3.6,3.8,4], "labels": false, "title": null, "tickSize": -7}}
 }},
{"mark": {"type": "line", "interpolate": "step-after", "strokeWidth": 2, "color": "#000099", "clip": true},
 "encoding": {
  "x": {"field": "bin", "type": "quantitative", "scale": {"domain": [0, 61], "nice": false, "zero": false}, "axis": {"orient": "bottom", "values": [0, 61], "format": "~g", "ticks": false, "labelPadding": 2, "labelFontSize": 4.5, "title": null}},
  "y": {"field": "w", "type": "quantitative", "scale": {"domain": [-4, 4.06], "nice": false, "zero": false}, "axis": {"orient": "left", "values": [-4,-3,-2,-1,0,1,2,3,4], "format": "~g", "labelFontSize": 4.5, "tickSize": -15, "labelPadding": 18, "title": "Weight", "titleFontSize": 3.8, "titleAngle": -90, "titleAlign": "right", "titleBaseline": "middle", "titleX": -25, "titleY": 2}}
 }},
{"data": {"values": [{}]}, "mark": {"type": "rule", "color": "#ff0000", "strokeWidth": 1},
 "encoding": {"x": {"datum": 8, "type": "quantitative", "axis": null}}}
]
}
],
"config": {
 "font": "Liberation Sans",
 "view": {"stroke": "black", "strokeWidth": 1},
 "axis": {"domain": false, "grid": false, "labelColor": "black", "tickColor": "black", "titleColor": "black", "labelFont": "Liberation Sans", "titleFont": "Liberation Sans", "titleFontWeight": "normal", "tickWidth": 1, "labelFlush": false, "labelOverlap": false, "labelBound": false}
}
}
